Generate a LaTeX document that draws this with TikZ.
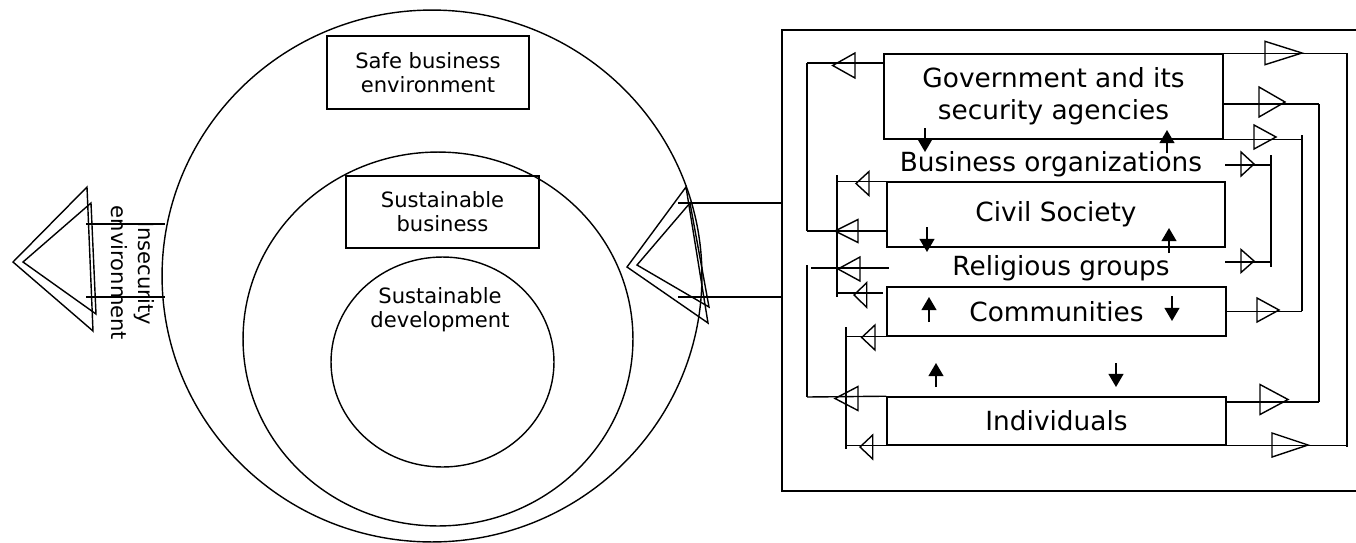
\documentclass[tikz,border=0pt]{standalone}
\usepackage{fontspec}
\setmainfont{DejaVu Sans}
\usetikzlibrary{arrows.meta,calc}

\tikzset{
  box/.style={draw, line width=0.9pt, inner sep=0pt, align=center, font=\fontsize{15}{18}\selectfont},
  cbox/.style={draw, line width=0.9pt, inner sep=0pt, align=center, font=\fontsize{12}{13.6}\selectfont},
  ctext/.style={inner sep=0pt, align=center, font=\fontsize{12}{13.6}\selectfont},
  ring/.style={draw, line width=0.8pt},
  flow/.style={line width=0.8pt},
  otri/.pic={\draw[line width=0.8pt] (0,-1) -- (1,0) -- (0,1) -- cycle;},
  sarrow/.style={line width=1pt, -{Triangle[length=7.5pt,width=8.5pt]}},
}

\begin{document}
\begin{tikzpicture}[x=0.02cm,y=-0.02cm]
\useasboundingbox (0,0) rectangle (1356,542);

% the three rings
\draw[ring] (432,276) ellipse [x radius=5.4cm, y radius=5.32cm];
\draw[ring] (438,339) ellipse [x radius=3.9cm, y radius=3.74cm];
\draw[ring] (442.5,362) ellipse [x radius=2.23cm, y radius=2.1cm];

\node[cbox, minimum width=4.04cm, minimum height=1.46cm] (safe) at (428,72.5) {Safe business\\environment};
\node[cbox, minimum width=3.86cm, minimum height=1.44cm] (sbus) at (442.5,212) {Sustainable\\business};
\node[ctext] (sdev) at (440,310) {Sustainable\\development};

% left side
\node[ctext, rotate=-90, font=\fontsize{12}{15}\selectfont] (insec) at (133,273) {Insecurity\\environment};
\draw[flow] (13,262) -- (87,187) -- (93,331) -- cycle;
\draw[flow] (23,262) -- (91,203) -- (96,314) -- cycle;
\coordinate (lt1) at (86,224);
\coordinate (lt2) at (86,297);
\draw[flow] (lt1) -- ++(79,0);
\draw[flow] (lt2) -- ++(79,0);

% right side of the rings
\draw[flow] (627,267) -- (686,187) -- (708,323) -- cycle;
\draw[flow] (637,265) -- (690,203) -- (709,307) -- cycle;

% actors
\node[draw, line width=0.9pt, inner sep=0pt, minimum width=11.506cm, minimum height=9.22cm] (frame) at (1069.35,260.5) {};
\coordinate (rt1) at (678,203);
\coordinate (rt2) at (678,297);
\draw[flow] (rt1) -- (frame.west |- rt1);
\draw[flow] (rt2) -- (frame.west |- rt2);

\node[box, minimum width=6.78cm, minimum height=1.7cm] (gov) at (1053.5,96.5) {Government and its\\security agencies};
\node[font=\fontsize{15}{18}\selectfont, inner sep=0pt] (bus) at (1051,164) {Business organizations};
\node[box, minimum width=6.76cm, minimum height=1.3cm] (civ) at (1056,214.5) {Civil Society};
\node[font=\fontsize{15}{18}\selectfont, inner sep=0pt] (rel) at (1061,268) {Religious groups};
\node[box, minimum width=6.78cm, minimum height=0.98cm] (com) at (1056.5,311.5) {Communities};
\node[box, minimum width=6.78cm, minimum height=0.96cm] (ind) at (1056.5,421) {Individuals};

% left loops
\coordinate (la1) at (807,63);  \coordinate (lb1) at (807,231);
\coordinate (la2) at (807,265); \coordinate (lb2) at (807,397);
\coordinate (la3) at (837,175); \coordinate (lb3) at (837,297);
\coordinate (la4) at (846,327); \coordinate (lb4) at (846,449);
\coordinate (rg1) at (811,268); \coordinate (rg2) at (889,268);
\coordinate (cm1) at (883,293);
\draw[flow] (la1) -- (lb1);
\draw[flow] (la2) -- (lb2);
\draw[flow] (la3) -- (lb3);
\draw[flow] (la4) -- (lb4);
\draw[flow] (gov.west |- la1) -- (la1);
\draw[flow] (civ.west |- lb1) -- (lb1);
\draw[flow] (lb2) -- (ind.north west);
\draw[flow] (civ.north west) -- (la3 |- civ.north west);
\draw[flow] (rg1) -- (rg2);
\draw[flow] (cm1) -- (lb3 |- cm1);
\draw[flow] (com.south west) -- (la4 |- com.south west);
\draw[flow] (ind.south west) -- (la4 |- ind.south west);

\pic[xscale=-22.3,yscale=12.5] at (855,65.5) {otri};
\pic[xscale=-23,yscale=11.5] at (858,231) {otri};
\pic[xscale=-13,yscale=12] at (869,183.5) {otri};
\pic[xscale=-22,yscale=12] at (860,269) {otri};
\pic[xscale=-12.7,yscale=12.3] at (866.7,295) {otri};
\pic[xscale=-13.3,yscale=12.5] at (875,337.5) {otri};
\pic[xscale=-23,yscale=12] at (858,398.5) {otri};
\pic[xscale=-12.7,yscale=12] at (872.7,447) {otri};

% right loops
\coordinate (ra1) at (1347,53);  \coordinate (rb1) at (1347,447);
\coordinate (ra2) at (1319,104); \coordinate (rb2) at (1319,402);
\coordinate (ra3) at (1302,135); \coordinate (rb3) at (1302,311);
\coordinate (ra4) at (1271,155); \coordinate (rb4) at (1271,267);
\coordinate (bo) at (1225,165);  \coordinate (rl) at (1225,262);
\draw[flow] (ra1) -- (rb1);
\draw[flow] (ra2) -- (rb2);
\draw[flow] (ra3) -- (rb3);
\draw[flow] (ra4) -- (rb4);
\draw[flow] (gov.north east) -- (ra1 |- gov.north east);
\draw[flow] (ind.south east) -- (rb1 |- ind.south east);
\draw[flow] (gov.east |- ra2) -- (ra2);
\draw[flow] (ind.east |- rb2) -- (rb2);
\draw[flow] (gov.south east) -- (ra3 |- gov.south east);
\draw[flow] (com.east) -- (rb3 |- com.east);
\draw[flow] (bo) -- (ra4 |- bo);
\draw[flow] (rl) -- (rb4 |- rl);

\pic[xscale=37,yscale=11.7] at (1265,53) {otri};
\pic[xscale=26,yscale=15] at (1259,102) {otri};
\pic[xscale=22,yscale=12] at (1254,137) {otri};
\pic[xscale=13,yscale=12] at (1241,164) {otri};
\pic[xscale=13,yscale=11.5] at (1241,261) {otri};
\pic[xscale=22,yscale=12] at (1257,310) {otri};
\pic[xscale=28,yscale=15] at (1260,399.5) {otri};
\pic[xscale=36,yscale=12] at (1272,445) {otri};

% influence arrows
\draw[sarrow] (925,128) -- (925,152);
\draw[sarrow] (1167,153) -- (1167,130);
\draw[sarrow] (927,227) -- (927,252);
\draw[sarrow] (1169,253) -- (1169,228);
\draw[sarrow] (929,322) -- (929,297);
\draw[sarrow] (1172,296) -- (1172,321);
\draw[sarrow] (936,387) -- (936,363);
\draw[sarrow] (1116,363) -- (1116,387);

\end{tikzpicture}
\end{document}
